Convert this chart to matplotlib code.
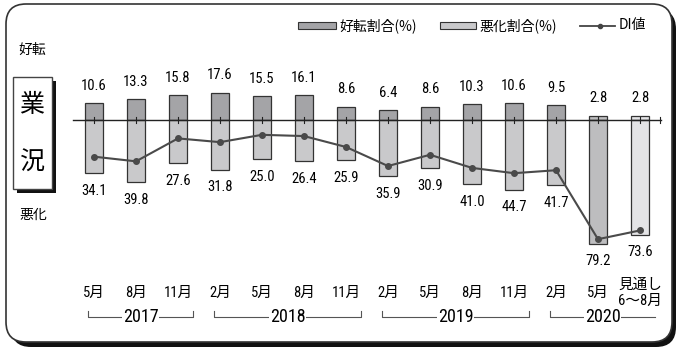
import numpy as np
import matplotlib
matplotlib.use("Agg")
import matplotlib.pyplot as plt
from matplotlib.patches import FancyBboxPatch, Rectangle

plt.rcParams['font.family'] = ['Roboto Condensed', 'Noto Sans CJK JP', 'DejaVu Sans']

# data
months = ["5月", "8月", "11月", "2月", "5月", "8月", "11月",
          "2月", "5月", "8月", "11月", "2月", "5月", "見通し\n6〜8月"]
good = [10.6, 13.3, 15.8, 17.6, 15.5, 16.1, 8.6, 6.4, 8.6, 10.3, 10.6, 9.5, 2.8, 2.8]
bad = [34.1, 39.8, 27.6, 31.8, 25.0, 26.4, 25.9, 35.9, 30.9, 41.0, 44.7, 41.7, 79.2, 73.6]
years = ["2017", "2018", "2019", "2020"]
year_span = [(0, 2), (3, 6), (7, 10), (11, 13)]

good_col = ['#a4a4a7'] * 12 + ['#bdbdbf', '#e4e4e6']
bad_col = ['#c9c9cb'] * 12 + ['#bdbdbf', '#e4e4e6']

W, H = 678, 352
fig = plt.figure(figsize=(W / 100, H / 100), dpi=100)

# decorations in pixel coords
bg = fig.add_axes([0, 0, 1, 1])
bg.set_xlim(0, W)
bg.set_ylim(H, 0)
bg.axis('off')

bg.add_patch(FancyBboxPatch((11, 9), 665, 338, boxstyle="round,pad=0,rounding_size=20",
                            fc='#111111', ec='none'))
bg.add_patch(FancyBboxPatch((6, 4), 666, 338, boxstyle="round,pad=0,rounding_size=20",
                            fc='white', ec='#333333', lw=1.2))

# 業況 box
bg.add_patch(Rectangle((17, 81), 39, 112, fc='#111111', ec='none'))
bg.add_patch(Rectangle((13, 77), 39, 112, fc='white', ec='#444444', lw=1))
bg.text(32, 105, "業", fontsize=18, ha='center', va='center', family='Noto Sans CJK JP')
bg.text(32, 163, "況", fontsize=18, ha='center', va='center', family='Noto Sans CJK JP')
bg.text(32, 50, "好転", fontsize=10, ha='center', va='center', family='Noto Sans CJK JP')
bg.text(33, 215, "悪化", fontsize=10, ha='center', va='center', family='Noto Sans CJK JP')

# legend
bg.add_patch(Rectangle((298, 22), 38, 7, fc=good_col[0], ec='#333333', lw=0.8))
bg.text(339, 25.5, "好転割合(%)", fontsize=10, va='center', family='Noto Sans CJK JP')
bg.add_patch(Rectangle((440, 22), 36, 7, fc=bad_col[0], ec='#333333', lw=0.8))
bg.text(479, 25.5, "悪化割合(%)", fontsize=10, va='center', family='Noto Sans CJK JP')
bg.plot([580, 615], [25.5, 25.5], color='#444444', lw=1.3)
bg.plot([600], [25.5], 'o', color='#444444', ms=3)
bg.text(619, 25.5, "DI値", fontsize=10, va='center', family='Noto Sans CJK JP')

# chart axes: x index -> 94 + 42*i px, value -> 120 - s*v px
s = 1.56
ax = fig.add_axes([0, 0, 1, 1])
ax.patch.set_alpha(0)
ax.set_xlim(-94 / 42, (W - 94) / 42)
ax.set_ylim((120 - H) / s, 120 / s)
ax.axis('off')

x = np.arange(len(months))
g = np.array(good)
b = np.array(bad)
di = g - b

ax.bar(x, g, width=0.41, color=good_col, edgecolor='#333333', lw=0.9, zorder=2)
ax.bar(x, -b, width=0.41, color=bad_col, edgecolor='#333333', lw=0.9, zorder=2)
ax.plot([-0.5, 13.5], [0, 0], color='#222222', lw=1, zorder=3)
for xi in list(x) + [13.48]:
    ax.plot([xi, xi], [-1.8, 1.8], color='#222222', lw=0.8, zorder=3)
ax.plot(x, di, color='#4a4a4a', lw=1.5, marker='o', ms=4, zorder=4)

for xi, gv, bv in zip(x, g, b):
    ax.text(xi, gv + 11, f"{gv:.1f}", ha='center', va='center', fontsize=10.5)
    ax.text(xi, -bv - 11.3, f"{bv:.1f}", ha='center', va='center', fontsize=10.5)

y_month = (120 - 293) / s
for xi, m in zip(x, months):
    ax.text(xi, y_month, m, ha='center', va='center', fontsize=10.5, linespacing=1.15)

y_br = (120 - 317) / s
tick = 6 / s
for (a, c), yr in zip(year_span, years):
    left, right = a - 0.14, c + 0.36
    if yr == "2020":
        ax.plot([left, left, right], [y_br + tick, y_br, y_br], color='#555555', lw=0.8)
    else:
        ax.plot([left, left, right, right], [y_br + tick, y_br, y_br, y_br + tick],
                color='#555555', lw=0.8)
    ax.text((left + right) / 2, y_br, yr, ha='center', va='center', fontsize=13,
            bbox=dict(fc='white', ec='none', pad=0.5))

fig.savefig("out.png", dpi=100)
